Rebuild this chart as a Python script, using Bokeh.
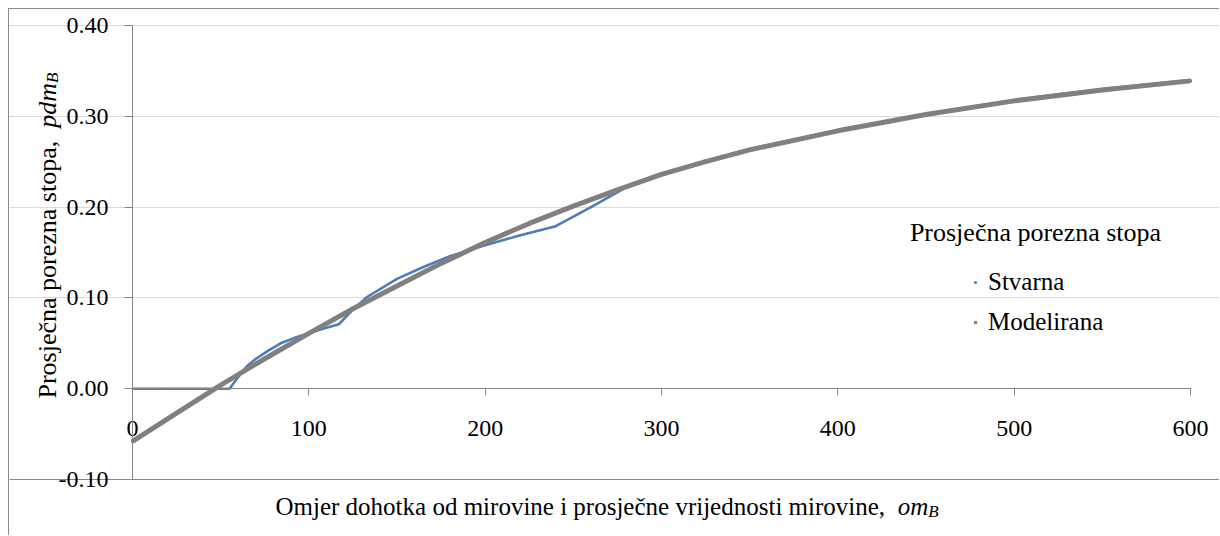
import math
from bokeh.plotting import figure
from bokeh.models import (Label, Legend, LegendItem, Range1d, FixedTicker,
                          NumeralTickFormatter, Grid)
from bokeh.embed import file_html
from bokeh.resources import INLINE

# ---- data ----
x_stvarna = [0, 20, 40, 55, 60, 65, 70, 77, 84, 92, 100, 108, 117, 125, 133,
             150, 165, 180, 200, 220, 240, 260, 282, 300, 350, 400, 450, 500,
             550, 600]
y_stvarna = [0.0, 0.0, 0.0, 0.0, 0.013, 0.025, 0.033, 0.042, 0.050, 0.056,
             0.061, 0.066, 0.071, 0.087, 0.101, 0.121, 0.134, 0.146, 0.158,
             0.169, 0.179, 0.200, 0.224, 0.237, 0.264, 0.285, 0.302, 0.318,
             0.330, 0.340]

x_modelirana = [0, 25, 50, 75, 100, 125, 150, 175, 200, 225, 250, 275, 300,
                325, 350, 400, 450, 500, 550, 600]
y_modelirana = [-0.058, -0.027, 0.004, 0.033, 0.061, 0.088, 0.113, 0.138,
                0.161, 0.182, 0.201, 0.219, 0.236, 0.250, 0.263, 0.284, 0.302,
                0.317, 0.329, 0.339]

x_ticks = [0, 100, 200, 300, 400, 500, 600]
y_ticks = [-0.10, 0.0, 0.10, 0.20, 0.30, 0.40]
grid_ticks = [0.10, 0.20, 0.30, 0.40]
bottom_line = [-0.10]

series_names = ["Stvarna", "Modelirana"]
legend_title = "Prosječna porezna stopa"
x_title = "Omjer dohotka od mirovine i prosječne vrijednosti mirovine,  "
x_title_var = "om"
y_title = "Prosječna porezna stopa,  "
y_title_var = "pdm"
sub = "B"

FONT = "'Liberation Serif', 'Times New Roman', serif"
FS_TICK = 24
FS_TXT = 25
FS_YT = 26
BLUE = "#4a7ebb"
GRAY = "#808080"
AXIS = "#868686"

# ---- canvas geometry (pixels) ----
W, H = 1211, 527
PX_LEFT, PX_RIGHT = 123, 1181      # canvas x of x=0 and x=600
PX_TOP, PX_BOTTOM = 16, 470        # canvas y of y=0.40 and y=-0.10
xmin, xmax = x_ticks[0], x_ticks[-1]
ymin, ymax = y_ticks[0], y_ticks[-1]
sx = (PX_RIGHT - PX_LEFT) / (xmax - xmin)
sy = (PX_BOTTOM - PX_TOP) / (ymax - ymin)
x_range = Range1d(xmin - PX_LEFT / sx, xmax + (W - PX_RIGHT) / sx)
y_range = Range1d(ymin - (H - PX_BOTTOM) / sy, ymax + PX_TOP / sy)

p = figure(width=W, height=H, x_range=x_range, y_range=y_range,
           output_backend="svg", toolbar_location=None,
           min_border_left=0, min_border_right=0,
           min_border_top=0, min_border_bottom=0)
p.styles = {"margin-left": "8px", "margin-top": "8px",
            "border-left": "1px solid #8a8a8a", "border-top": "1px solid #8a8a8a"}
p.outline_line_color = None
p.background_fill_color = "white"
p.border_fill_color = "white"

# grids
p.xgrid.visible = False
p.ygrid.ticker = FixedTicker(ticks=grid_ticks)
p.ygrid.bounds = (xmin, xmax)
p.ygrid.grid_line_color = "#d9d9d9"
p.ygrid.grid_line_width = 1
p.add_layout(Grid(dimension=1, ticker=FixedTicker(ticks=bottom_line),
                  bounds=(xmin, xmax), grid_line_color=AXIS, grid_line_width=1))

# x axis crossing at 0
xa = p.xaxis[0]
xa.ticker = FixedTicker(ticks=x_ticks)
xa.fixed_location = 0
xa.bounds = (xmin, xmax)
xa.axis_line_color = AXIS
xa.major_tick_line_color = AXIS
xa.major_tick_out = 7
xa.major_tick_in = 0
xa.minor_tick_line_color = None
xa.major_label_standoff = 25
xa.major_label_text_font = FONT
xa.major_label_text_font_size = f"{FS_TICK}px"
xa.major_label_text_color = "black"

ya = p.yaxis[0]
ya.ticker = FixedTicker(ticks=y_ticks)
ya.formatter = NumeralTickFormatter(format="0.00")
ya.fixed_location = 0
ya.bounds = (ymin, ymax)
ya.axis_line_color = AXIS
ya.major_tick_line_color = AXIS
ya.major_tick_out = 8
ya.major_tick_in = 0
ya.minor_tick_line_color = None
ya.major_label_standoff = 16
ya.major_label_text_font = FONT
ya.major_label_text_font_size = f"{FS_TICK}px"
ya.major_label_text_color = "black"

# series (lines with tiny markers, as in the source chart)
p.line(x_stvarna, y_stvarna, line_color=BLUE, line_width=2.6)
m_stv = p.scatter(x_stvarna, y_stvarna, marker="circle", size=2,
                  fill_color=BLUE, line_color=None)
p.line(x_modelirana, y_modelirana, line_color=GRAY, line_width=5)
m_mod = p.scatter(x_modelirana, y_modelirana, marker="square", size=3,
                  fill_color=GRAY, line_color=None)

# legend  (screen coords: from frame bottom-left, y up)
legend = Legend(items=[LegendItem(label=series_names[0], renderers=[m_stv]),
                       LegendItem(label=series_names[1], renderers=[m_mod])],
                location=(962, 194), orientation="vertical",
                glyph_width=8, glyph_height=8, label_standoff=9,
                label_height=40, spacing=0, padding=0, margin=0,
                border_line_color=None, background_fill_alpha=0,
                label_text_font=FONT, label_text_font_size=f"{FS_TXT}px",
                label_text_color="black")
p.add_layout(legend, "center")

p.add_layout(Label(x=1026, y=304, x_units="screen", y_units="screen",
                   text=legend_title, text_align="center", text_baseline="middle",
                   text_font=FONT, text_font_size=f"{FS_YT}px", text_color="black"))

# x title: regular part + italic variable with subscript
em = FS_TXT / 1000.0
w_x_title = 24887 * em   # Times metrics of x_title
w_om = 1222 * em
xt_x, xt_y = 266, 30
p.add_layout(Label(x=xt_x, y=xt_y, x_units="screen", y_units="screen",
                   text=x_title, text_align="left", text_baseline="alphabetic",
                   text_font=FONT, text_font_size=f"{FS_TXT}px", text_color="black"))
p.add_layout(Label(x=xt_x + w_x_title, y=xt_y, x_units="screen", y_units="screen",
                   text=x_title_var, text_align="left", text_baseline="alphabetic",
                   text_font=FONT, text_font_style="italic",
                   text_font_size=f"{FS_TXT}px", text_color="black"))
p.add_layout(Label(x=xt_x + w_x_title + w_om, y=xt_y - 5, x_units="screen", y_units="screen",
                   text=sub, text_align="left", text_baseline="alphabetic",
                   text_font=FONT, text_font_style="italic",
                   text_font_size="17px", text_color="black"))

# y title (rotated)
emy = FS_YT / 1000.0
w_y_title = 10414 * emy
w_pdm = 1722 * emy
yt_x, yt_y = 38, 138
p.add_layout(Label(x=yt_x, y=yt_y, x_units="screen", y_units="screen",
                   text=y_title, angle=math.pi / 2, text_align="left",
                   text_baseline="alphabetic", text_font=FONT,
                   text_font_size=f"{FS_YT}px", text_color="black"))
p.add_layout(Label(x=yt_x, y=yt_y + w_y_title, x_units="screen", y_units="screen",
                   text=y_title_var, angle=math.pi / 2, text_align="left",
                   text_baseline="alphabetic", text_font=FONT, text_font_style="italic",
                   text_font_size=f"{FS_YT}px", text_color="black"))
p.add_layout(Label(x=yt_x + 5, y=yt_y + w_y_title + w_pdm, x_units="screen", y_units="screen",
                   text=sub, angle=math.pi / 2, text_align="left",
                   text_baseline="alphabetic", text_font=FONT, text_font_style="italic",
                   text_font_size="17px", text_color="black"))

open("out.html", "w").write(file_html(p, INLINE))
